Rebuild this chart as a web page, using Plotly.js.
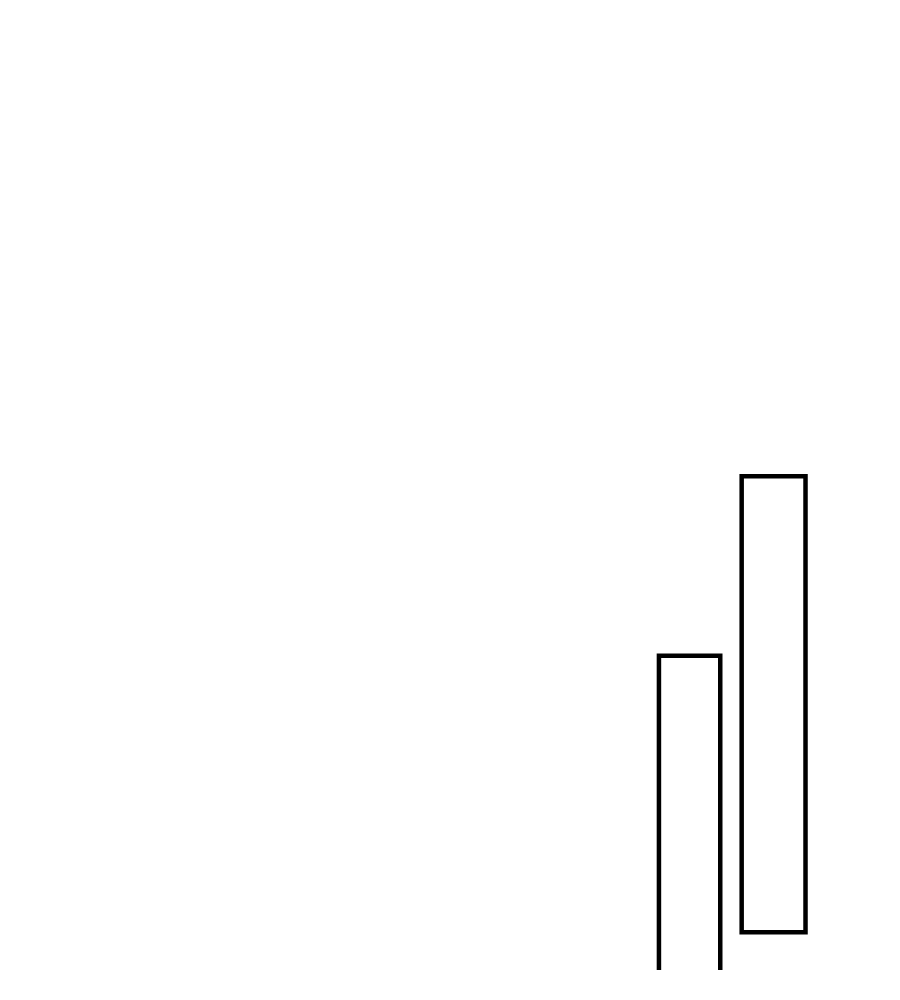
<!DOCTYPE html>
<html>
<head>
<meta charset="utf-8">
<script src="https://cdn.plot.ly/plotly-3.0.1.min.js"></script>
<style>html,body{margin:0;padding:0;background:#fff;}</style>
</head>
<body>
<div id="chart" style="width:900px;height:1000px;"></div>
<script>
var categories = [0, 1];
var barTops = [32.4, 50.9];
var barBases = [-20, 3.9];

var heights = barTops.map(function (t, i) { return t - barBases[i]; });

var trace = {
  type: 'bar',
  x: categories,
  y: heights,
  base: barBases,
  width: [0.73, 0.76],
  marker: { color: 'rgba(255,255,255,0)', line: { color: '#000', width: 4.5 } },
  hoverinfo: 'none',
  showlegend: false
};

var layout = {
  width: 900,
  height: 1000,
  margin: { l: 0, r: 0, t: 0, b: 30, pad: 0 },
  paper_bgcolor: '#fff',
  plot_bgcolor: '#fff',
  xaxis: { visible: false, range: [-8.21, 2.505], fixedrange: true },
  yaxis: { visible: false, range: [0, 100], fixedrange: true },
  showlegend: false
};

Plotly.newPlot('chart', [trace], layout, { displayModeBar: false, staticPlot: true });
</script>
</body>
</html>
